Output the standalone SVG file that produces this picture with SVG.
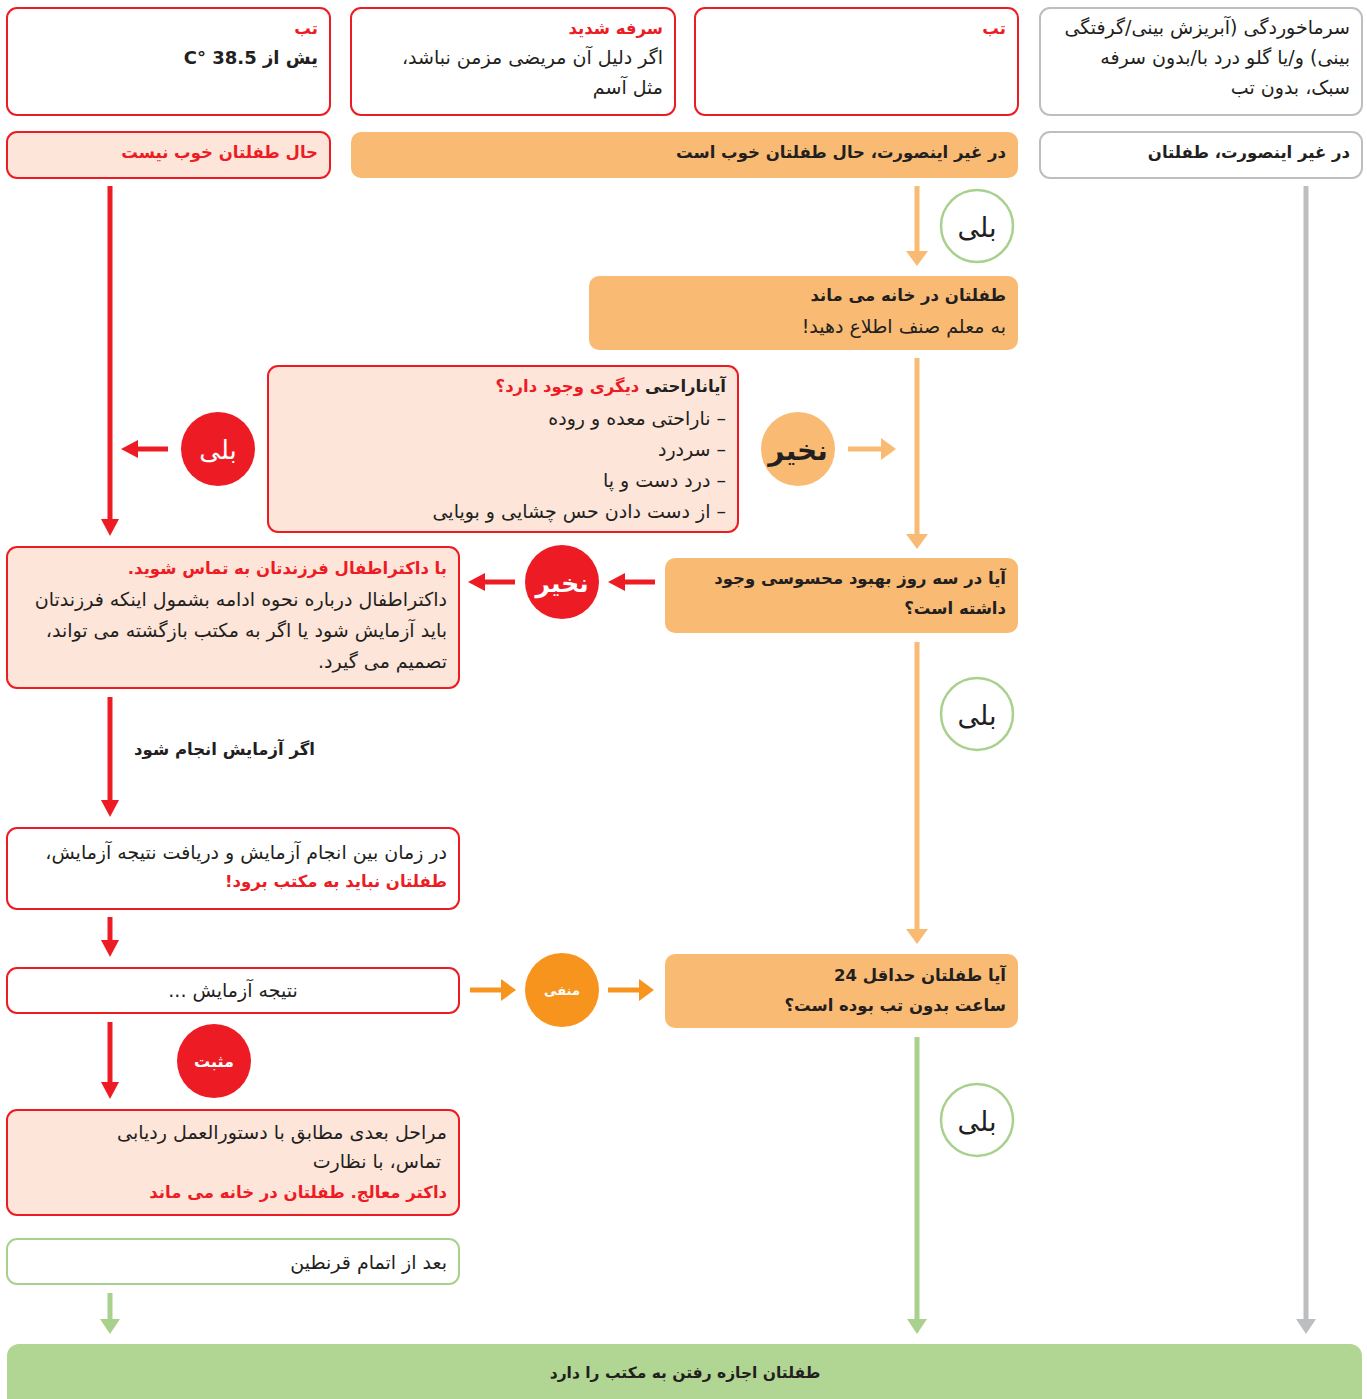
<svg xmlns="http://www.w3.org/2000/svg" width="1367" height="1399" viewBox="0 0 1367 1399">
<style>
text{font-family:"DejaVu Sans",sans-serif;font-size:19px;fill:#231f20;direction:rtl;text-anchor:start}
.b{font-weight:bold;font-size:16.5px}
.r{fill:#ed1c24}
.w{fill:#ffffff}
.c{text-anchor:middle}
.boxR{fill:#ffffff;stroke:#ed1c24;stroke-width:2}
.boxP{fill:#fde5da;stroke:#ed1c24;stroke-width:2}
.boxG{fill:#ffffff;stroke:#bcbec0;stroke-width:2}
.boxO{fill:#f9bb74}
.boxGr{fill:#ffffff;stroke:#a9d18e;stroke-width:2}
.lr{stroke:#ed1c24;stroke-width:5;fill:none}
.lo{stroke:#f9bb74;stroke-width:5;fill:none}
.ld{stroke:#f7941d;stroke-width:5;fill:none}
.lg{stroke:#a9d18e;stroke-width:5;fill:none}
.ly{stroke:#bcbec0;stroke-width:5;fill:none}
.cg{fill:#ffffff;stroke:#a9d18e;stroke-width:2.5}
</style>
<defs>
<marker id="mr" markerUnits="userSpaceOnUse" markerWidth="20" markerHeight="20" refX="1" refY="9" orient="auto"><path d="M0,0 L17,9 L0,18 z" fill="#ed1c24"/></marker>
<marker id="mo" markerUnits="userSpaceOnUse" markerWidth="24" markerHeight="24" refX="1" refY="11" orient="auto"><path d="M0,0 L15,11 L0,22 z" fill="#f9bb74"/></marker>
<marker id="md" markerUnits="userSpaceOnUse" markerWidth="24" markerHeight="24" refX="1" refY="11" orient="auto"><path d="M0,0 L15,11 L0,22 z" fill="#f7941d"/></marker>
<marker id="mg" markerUnits="userSpaceOnUse" markerWidth="24" markerHeight="24" refX="1" refY="10" orient="auto"><path d="M0,0 L15,10 L0,20 z" fill="#a9d18e"/></marker>
<marker id="my" markerUnits="userSpaceOnUse" markerWidth="24" markerHeight="24" refX="1" refY="10" orient="auto"><path d="M0,0 L15,10 L0,20 z" fill="#bcbec0"/></marker>
</defs>

<g id="connectors">
<path class="lr" d="M110,186 V520" marker-end="url(#mr)"/>
<path class="lo" d="M917,186 V252" marker-end="url(#mo)"/>
<path class="ly" d="M1306,186 V1320" marker-end="url(#my)"/>
<path class="lo" d="M917,358 V535" marker-end="url(#mo)"/>
<path class="lo" d="M848,449 H882" marker-end="url(#mo)"/>
<path class="lr" d="M168,449 H137" marker-end="url(#mr)"/>
<path class="lr" d="M655,582 H624" marker-end="url(#mr)"/>
<path class="lr" d="M515,582 H484" marker-end="url(#mr)"/>
<path class="lr" d="M110,697 V801" marker-end="url(#mr)"/>
<path class="lo" d="M917,642 V930" marker-end="url(#mo)"/>
<path class="lr" d="M110,917 V941" marker-end="url(#mr)"/>
<path class="ld" d="M470,990 H502" marker-end="url(#md)"/>
<path class="ld" d="M608,990 H640" marker-end="url(#md)"/>
<path class="lr" d="M110,1022 V1083" marker-end="url(#mr)"/>
<path class="lg" d="M917,1037 V1320" marker-end="url(#mg)"/>
<path class="lg" d="M110,1293 V1320" marker-end="url(#mg)"/>
</g>

<g id="fever385">
<rect class="boxR" x="7" y="8" width="323" height="107" rx="10"/>
<text class="b r" x="318" y="34">تب</text>
<text class="b" x="318" y="64" style="font-size:18px">یش از  38.5 °C</text>
</g>
<g id="cough">
<rect class="boxR" x="351" y="8" width="324" height="107" rx="10"/>
<text class="b r" x="663" y="34">سرفه شدید</text>
<text x="663" y="64">اگر دلیل آن مریضی مزمن نباشد،</text>
<text x="663" y="94">مثل آسم</text>
</g>
<g id="fever">
<rect class="boxR" x="695" y="8" width="323" height="107" rx="10"/>
<text class="b r" x="1006" y="34">تب</text>
</g>
<g id="cold">
<rect class="boxG" x="1040" y="8" width="322" height="107" rx="10"/>
<text x="1350" y="34">سرماخوردگی (آبریزش بینی/گرفتگی</text>
<text x="1350" y="64">بینی) و/یا گلو درد با/بدون سرفه</text>
<text x="1350" y="94">سبک، بدون تب</text>
</g>

<g id="notwell">
<rect class="boxP" x="7" y="132" width="323" height="46" rx="10"/>
<text class="b r" x="318" y="158">حال طفلتان خوب نیست</text>
</g>
<g id="otherwiseWell">
<rect class="boxO" x="351" y="132" width="667" height="46" rx="10"/>
<text class="b" x="1006" y="158">در غیر اینصورت، حال طفلتان خوب است</text>
</g>
<g id="otherwiseChild">
<rect class="boxG" x="1040" y="132" width="322" height="46" rx="10"/>
<text class="b" x="1350" y="158">در غیر اینصورت، طفلتان</text>
</g>

<g id="yes1">
<circle class="cg" cx="977" cy="226" r="36"/>
<text class="c" x="977" y="237" style="font-size:27px">بلی</text>
</g>

<g id="stayHome">
<rect class="boxO" x="589" y="276" width="429" height="74" rx="10"/>
<text class="b" x="1006" y="301">طفلتان در خانه می ماند</text>
<text x="1006" y="333">به معلم صنف اطلاع دهید!</text>
</g>

<g id="otherSymptoms">
<rect class="boxP" x="268" y="366" width="470" height="166" rx="10"/>
<text class="b" x="726" y="392"><tspan>آیاناراحتی </tspan><tspan class="r">دیگری وجود دارد؟</tspan></text>
<text x="726" y="425">– ناراحتی معده و روده</text>
<text x="726" y="456">– سردرد</text>
<text x="726" y="487">– درد دست و پا</text>
<text x="726" y="518">– از دست دادن حس چشایی و بویایی</text>
</g>

<g id="no1">
<circle cx="798" cy="449" r="37" fill="#f9bb74"/>
<text class="c b" x="798" y="460" style="font-size:28px">نخیر</text>
</g>
<g id="yes2">
<circle cx="218" cy="449" r="37" fill="#ed1c24"/>
<text class="c w" x="218" y="459" style="font-size:26px">بلی</text>
</g>

<g id="improve">
<rect class="boxO" x="665" y="558" width="353" height="75" rx="10"/>
<text class="b" x="1006" y="584">آیا در سه روز بهبود محسوسی وجود</text>
<text class="b" x="1006" y="614">داشته است؟</text>
</g>
<g id="no2">
<circle cx="562" cy="582" r="37" fill="#ed1c24"/>
<text class="c b w" x="562" y="592" style="font-size:25px">نخیر</text>
</g>

<g id="contactDoctor">
<rect class="boxP" x="7" y="547" width="452" height="141" rx="10"/>
<text class="b r" x="447" y="574">با داکتراطفال فرزندتان به تماس شوید.</text>
<text x="447" y="606">داکتراطفال درباره نحوه ادامه بشمول اینکه فرزندتان</text>
<text x="447" y="637">باید آزمایش شود یا اگر به مکتب بازگشته می تواند،</text>
<text x="447" y="668">تصمیم می گیرد.</text>
</g>

<g id="ifTest">
<text class="b" x="315" y="755">اگر آزمایش انجام شود</text>
</g>

<g id="yes3">
<circle class="cg" cx="977" cy="714" r="36"/>
<text class="c" x="977" y="725" style="font-size:27px">بلی</text>
</g>

<g id="waitResult">
<rect class="boxR" x="7" y="828" width="452" height="81" rx="10"/>
<text x="447" y="859">در زمان بین انجام آزمایش و دریافت نتیجه آزمایش،</text>
<text class="b r" x="447" y="887">طفلتان نباید به مکتب برود!</text>
</g>

<g id="testResult">
<rect class="boxR" x="7" y="968" width="452" height="45" rx="10"/>
<text class="c" x="233" y="997">نتیجه آزمایش ...</text>
</g>

<g id="negative">
<circle cx="562" cy="990" r="37" fill="#f7941d"/>
<text class="c b w" x="562" y="995" style="font-size:13px">منفی</text>
</g>

<g id="noFever24">
<rect class="boxO" x="665" y="954" width="353" height="74" rx="10"/>
<text class="b" x="1006" y="981">آیا طفلتان حداقل 24</text>
<text class="b" x="1006" y="1011">ساعت بدون تب بوده است؟</text>
</g>

<g id="positive">
<circle cx="214" cy="1061" r="37" fill="#ed1c24"/>
<text class="c b w" x="214" y="1067" style="font-size:16px">مثبت</text>
</g>

<g id="yes4">
<circle class="cg" cx="977" cy="1120" r="36"/>
<text class="c" x="977" y="1131" style="font-size:27px">بلی</text>
</g>

<g id="nextSteps">
<rect class="boxP" x="7" y="1110" width="452" height="105" rx="10"/>
<text x="447" y="1139">مراحل بعدی مطابق با دستورالعمل ردیابی</text>
<text x="441" y="1168">تماس، با نظارت</text>
<text class="b r" x="447" y="1198">داکتر معالج. طفلتان در خانه می ماند</text>
</g>

<g id="afterQuarantine">
<rect class="boxGr" x="7" y="1239" width="452" height="45" rx="10"/>
<text x="447" y="1269">بعد از اتمام قرنطین</text>
</g>

<g id="allowed">
<rect x="7" y="1344" width="1355" height="80" rx="12" fill="#b1d693"/>
<text class="c b" x="685" y="1378" style="font-size:15.5px">طفلتان اجازه رفتن به مکتب را دارد</text>
</g>
</svg>
